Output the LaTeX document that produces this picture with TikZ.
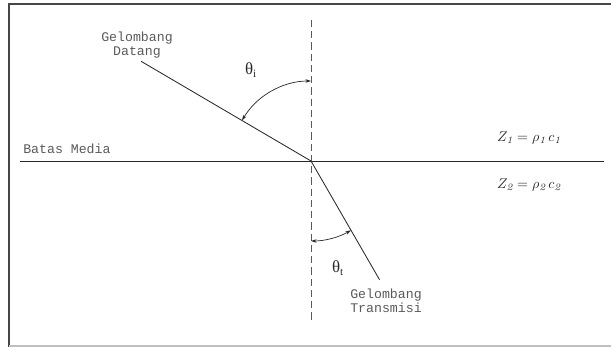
\documentclass[tikz,border=0pt]{standalone}
\usepackage{tikz}
\usetikzlibrary{arrows.meta,calc}
\usepackage{fontspec}
\setmonofont{Liberation Mono}
\newfontfamily\grkfont{Liberation Serif}
\usepackage{xcolor}
\definecolor{FrameGray}{RGB}{70,70,70}
\definecolor{TextGray}{RGB}{90,90,90}
\definecolor{LineGray}{RGB}{40,40,40}

\begin{document}
\begin{tikzpicture}[x=0.025cm,y=0.025cm,
  lbl/.style={font=\ttfamily\fontsize{9.4}{10.2}\selectfont,text=TextGray,align=center,inner sep=0pt},
  ray/.style={draw=LineGray,line width=0.6pt},
  ang/.style={draw=LineGray,line width=0.5pt,{Stealth[length=4pt,width=2.5pt]}-{Stealth[length=4pt,width=2.5pt]}},
  angl/.style={font=\grkfont\fontsize{12}{13}\selectfont,text=LineGray},
]
\useasboundingbox (0,0) rectangle (611,347);
% frame
\draw[FrameGray,line width=1.4pt] (9,0) -- (9,343) -- (611,343);
\draw[black!25,line width=0.8pt] (9,1) -- (611,1);
% points
\coordinate (O) at (311,186);
\coordinate (left) at (20,186);
\coordinate (right) at (604,186);
\coordinate (top) at (311,327);
\coordinate (bot) at (311,24);
\coordinate (inc) at ($(O)+(149.6:197)$);
\coordinate (tra) at ($(O)+(-60:137)$);
% boundary and normal
\draw[ray] (left) -- (right);
\draw[draw=TextGray,line width=0.6pt,dash pattern=on 5pt off 3pt] (top) -- (bot);
% rays
\draw[ray] (inc) -- (O);
\draw[ray] (O) -- (tra);
% angles
\draw[ang] ($(O)+(149.6:80)$) arc[start angle=149.6,end angle=90,radius=80];
\draw[ang] ($(O)+(270:80)$) arc[start angle=270,end angle=300,radius=80];
\node[angl] (thi) at (251,277) {θ\textsubscript{i}};
\node[angl] (tht) at (338,79) {θ\textsubscript{t}};
% labels
\node[lbl] (datang) at (137,302) {Gelombang\\Datang};
\node[lbl,anchor=west] (batas) at (23,198) {Batas Media};
\node[lbl] (trans) at (386,46) {Gelombang\\Transmisi};
\node[font=\fontsize{10}{12}\selectfont,text=LineGray] (z1) at (529,209) {$Z_{\mathit{1}} = \rho_{\mathit{1}}\, c_{\mathit{1}}$};
\node[font=\fontsize{10}{12}\selectfont,text=LineGray] (z2) at (529,162) {$Z_{\mathit{2}} = \rho_{\mathit{2}}\, c_{\mathit{2}}$};
\end{tikzpicture}
\end{document}
